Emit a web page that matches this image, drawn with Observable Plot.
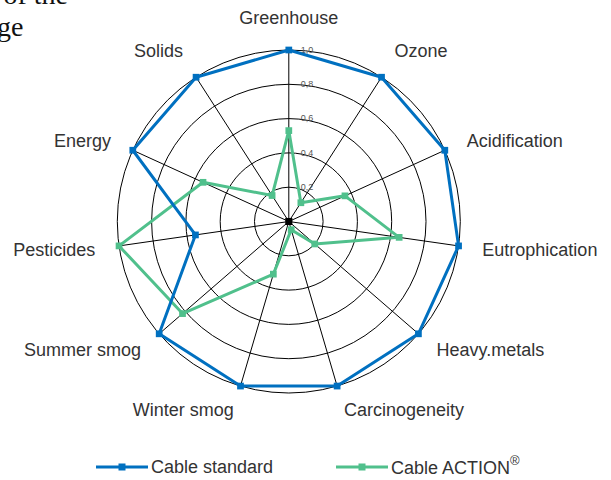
<!DOCTYPE html>
<html><head><meta charset="utf-8">
<script src="https://cdn.jsdelivr.net/npm/d3@7"></script>
<script src="https://cdn.jsdelivr.net/npm/@observablehq/plot@0.6"></script>
<style>
body{margin:0;background:#fff;}
#wrap{position:relative;width:611px;height:480px;overflow:hidden;background:#fff;font-family:"Liberation Sans",Arial,sans-serif;}
#chart{position:absolute;left:0;top:0;}
.frag{position:absolute;font-family:"Liberation Serif","Times New Roman",serif;font-size:28px;color:#111;line-height:1;white-space:nowrap;}
.leg{position:absolute;display:flex;align-items:center;font-size:18px;color:#333;white-space:nowrap;}
.leg svg{margin-right:3px;}
sup{font-size:13px;position:relative;top:-2px;}
</style></head><body>
<div id="wrap">
  <div id="chart"></div>
  <div class="frag" id="f1" style="right:543px;top:-19px;">of the</div>
  <div class="frag" id="f2" style="left:-3px;top:13px;">ge</div>
  <div id="legend"></div>
</div>
<script>
const categories = ["Greenhouse","Ozone","Acidification","Eutrophication","Heavy.metals","Carcinogeneity","Winter smog","Summer smog","Pesticides","Energy","Solids"];
const cableStandard = [1.0, 1.0, 1.0, 1.0, 1.0, 1.0, 1.0, 1.0, 0.55, 1.0, 1.0];
const cableAction  = [0.53, 0.13, 0.36, 0.65, 0.20, 0.05, 0.32, 0.82, 1.0, 0.55, 0.18];
const ringTicks = [0.2, 0.4, 0.6, 0.8, 1.0];
const tickLabels = ["0,2", "0,4", "0,6", "0,8", "1,0"];
const seriesNames = ["Cable standard", "Cable ACTION"];
const seriesColors = ["#0070C0", "#50C08C"];

const W = 611, H = 448, R = 171.5, cx = 288.3, cy = 221;
const n = categories.length;
const ang = i => i * 2 * Math.PI / n;

const toPts = (vals, s) => vals.map((v, i) => ({series: s, cat: categories[i], x: v * Math.sin(ang(i)), y: v * Math.cos(ang(i))}));
const stdPts = toPts(cableStandard, seriesNames[0]);
const actPts = toPts(cableAction, seriesNames[1]);

const spokes = categories.map((c, i) => ({cat: c, x: Math.sin(ang(i)), y: Math.cos(ang(i))}));
const LR = 1.14;
const labels = categories.map((c, i) => {
  const s = Math.sin(ang(i)), co = Math.cos(ang(i));
  const off = co > 0.6 ? 2 - 10 * Math.pow(co, 1.5) : 1; // pixel shift downward
  return {cat: c, s, x: LR * s, y: LR * co - off / R};
});
const labelStyle = {x: "x", y: "y", text: "cat", fontSize: 18, fill: "#333", lineAnchor: "middle"};

const chart = Plot.plot({
  width: W, height: H, margin: 0,
  x: {domain: [-cx / R, (W - cx) / R], range: [0, W], axis: null},
  y: {domain: [-(H - cy) / R, cy / R], range: [H, 0], axis: null},
  r: {type: "linear", domain: [0, 1], range: [0, R]},
  style: {fontFamily: "Liberation Sans, Arial, sans-serif", background: "white", overflow: "visible"},
  marks: [
    Plot.dot(ringTicks, {x: () => 0, y: () => 0, r: d => d, stroke: "#000", strokeWidth: 1, fill: "none"}),
    Plot.link(spokes, {x1: () => 0, y1: () => 0, x2: "x", y2: "y", stroke: "#000", strokeWidth: 1}),
    Plot.text(ringTicks, {x: () => 0, y: d => d, text: (d, i) => tickLabels[i], dx: 12, textAnchor: "start", fontSize: 9, fill: "#555"}),
    Plot.line(actPts, {x: "x", y: "y", stroke: seriesColors[1], strokeWidth: 3, curve: "linear-closed"}),
    Plot.dot(actPts, {x: "x", y: "y", symbol: "square", r: 3.8, fill: seriesColors[1], stroke: "none"}),
    Plot.line(stdPts, {x: "x", y: "y", stroke: seriesColors[0], strokeWidth: 3, curve: "linear-closed"}),
    Plot.dot(stdPts, {x: "x", y: "y", symbol: "square", r: 3.8, fill: seriesColors[0], stroke: "none"}),
    Plot.dot([0], {x: () => 0, y: () => 0, symbol: "square", r: 4, fill: "#000"}),
    Plot.text(labels, {...labelStyle, filter: d => Math.abs(d.s) < 0.1, textAnchor: "middle"}),
    Plot.text(labels, {...labelStyle, filter: d => d.s >= 0.1, textAnchor: "start"}),
    Plot.text(labels, {...labelStyle, filter: d => d.s <= -0.1, textAnchor: "end"})
  ]
});
document.getElementById("chart").appendChild(chart);

// legend
const legend = document.getElementById("legend");
const legPos = [96, 336];
seriesNames.forEach((name, i) => {
  const item = document.createElement("div");
  item.className = "leg";
  item.style.left = legPos[i] + "px";
  item.style.top = "456px";
  item.style.height = "22px";
  const c = seriesColors[i];
  item.innerHTML = `<svg width="52" height="10"><line x1="0" y1="5" x2="52" y2="5" stroke="${c}" stroke-width="3"/><rect x="22.5" y="1.5" width="7" height="7" fill="${c}"/></svg><span>${name}${i === 1 ? "<sup>®</sup>" : ""}</span>`;
  legend.appendChild(item);
});
</script>
</body></html>
